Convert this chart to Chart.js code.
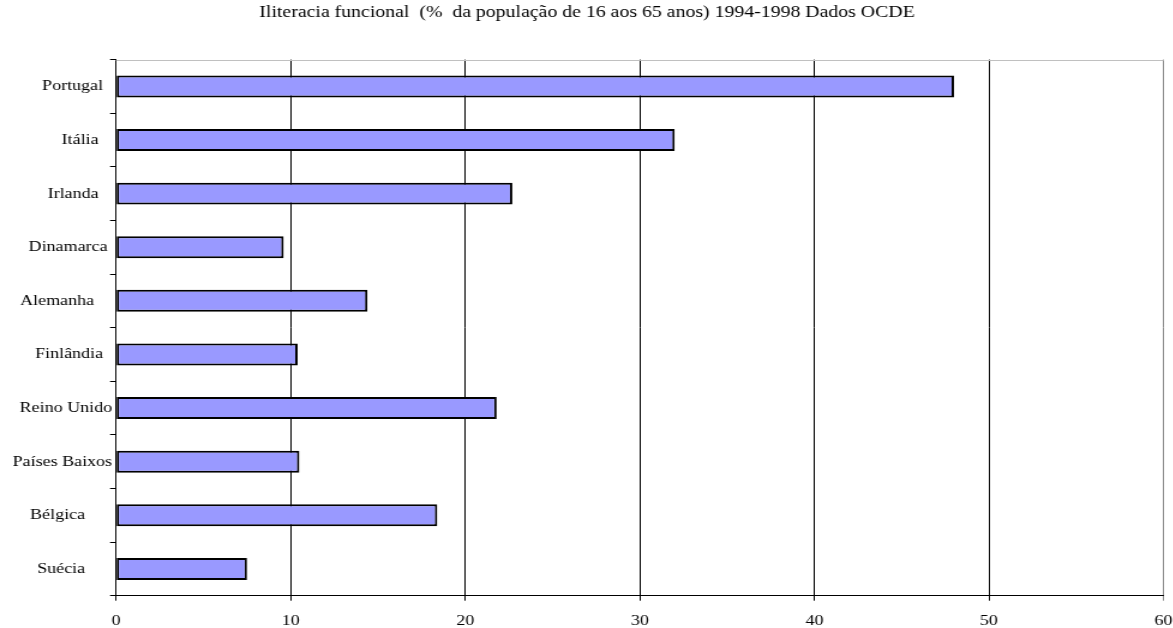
<!DOCTYPE html>
<html>
<head>
<meta charset="utf-8">
<script src="https://cdn.jsdelivr.net/npm/chart.js@4/dist/chart.umd.min.js"></script>
<style>
  html, body { margin: 0; padding: 0; background: #ffffff; overflow: hidden; }
  #wrap { width: 1173px; height: 628px; overflow: hidden; }
  /* the chart is laid out on a narrower canvas and widened to the page */
  #c { transform: scaleX(1.2); transform-origin: 0 0; display: block; }
</style>
</head>
<body>
<div id="wrap"><canvas id="c" width="978" height="628"></canvas></div>
<script>
// Countries (top to bottom) and functional illiteracy rate, %
const countries = ['Portugal  ', 'Itália   ', 'Irlanda   ', 'Dinamarca ', 'Alemanha    ',
                   'Finlândia  ', 'Reino Unido', 'Países Baixos', 'Bélgica      ', 'Suécia      '];
const illiteracy = [48.0, 32.0, 22.7, 9.6, 14.4, 10.4, 21.8, 10.5, 18.4, 7.5];
const xTicks = [0, 10, 20, 30, 40, 50, 60];
const chartTitle = 'Iliteracia funcional  (%  da população de 16 aos 65 anos) 1994-1998 Dados OCDE';

const serif = '"Liberation Serif", "Times New Roman", serif';

// thin grey frame along the top of the plot area
const topFrame = {
  id: 'topFrame',
  afterDraw(chart) {
    const { ctx, chartArea: a } = chart;
    ctx.save();
    ctx.strokeStyle = '#c0c0c0';
    ctx.lineWidth = 1;
    ctx.beginPath();
    ctx.moveTo(a.left, Math.round(a.top) + 0.5);
    ctx.lineTo(a.right, Math.round(a.top) + 0.5);
    ctx.stroke();
    ctx.restore();
  }
};

new Chart(document.getElementById('c'), {
  type: 'bar',
  data: {
    labels: countries,
    datasets: [{
      data: illiteracy,
      backgroundColor: '#9999ff',
      borderColor: '#000000',
      borderWidth: 2,
      borderSkipped: false,
      categoryPercentage: 1,
      barPercentage: 0.41
    }]
  },
  options: {
    indexAxis: 'y',
    responsive: false,
    animation: false,
    devicePixelRatio: 1,
    layout: { padding: { left: 8.8, right: 8.4, top: 0, bottom: 0 } },
    plugins: {
      legend: { display: false },
      tooltip: { enabled: false },
      title: {
        display: true,
        text: chartTitle,
        color: '#000000',
        font: { family: serif, size: 16.5, weight: 'normal', lineHeight: 1.2 },
        padding: { top: 3.2, bottom: 36.6 }
      }
    },
    scales: {
      x: {
        type: 'linear',
        min: xTicks[0],
        max: xTicks[xTicks.length - 1],
        afterBuildTicks(scale) { scale.ticks = xTicks.map(v => ({ value: v })); },
        afterFit(scale) {
          scale.height = 32.3;
          scale.paddingLeft = 0;
          scale.paddingRight = 0;
        },
        ticks: {
          color: '#000000',
          font: { family: serif, size: 15 },
          padding: 11,
          maxRotation: 0
        },
        grid: {
          color: (c) => (c.tick && c.tick.value === 60 ? '#888888' : '#000000'),
          lineWidth: 1,
          drawTicks: true,
          tickLength: 5
        },
        border: { color: '#000000', width: 1 }
      },
      y: {
        afterFit(scale) { scale.width = 87.9; },
        ticks: {
          color: '#000000',
          font: { family: serif, size: 15 },
          padding: -1.7,
          autoSkip: false
        },
        grid: {
          display: true,
          drawOnChartArea: false,
          drawTicks: true,
          tickLength: 5,
          color: '#000000',
          offset: true
        },
        border: { color: '#000000', width: 1 }
      }
    }
  },
  plugins: [topFrame]
});
</script>
</body>
</html>
